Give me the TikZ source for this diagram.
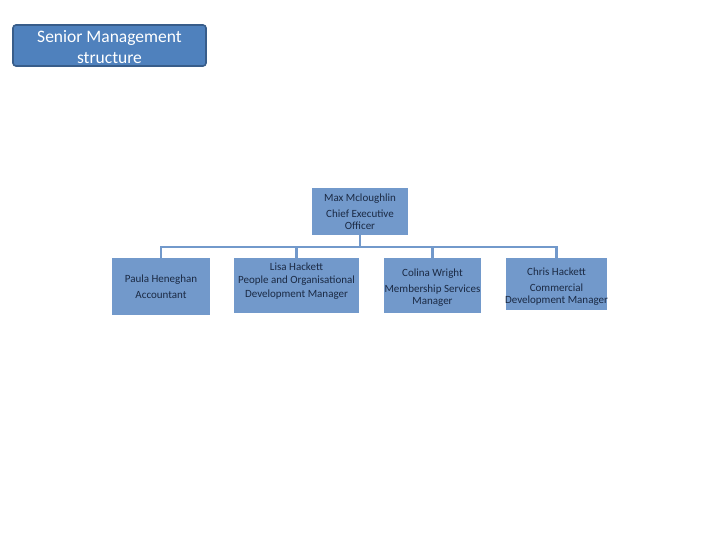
\documentclass[tikz,border=0pt]{standalone}
\usepackage{fontspec}
\setmainfont{Carlito}
\definecolor{hdrfill}{HTML}{4F81BD}
\definecolor{hdrline}{HTML}{385D8A}
\definecolor{boxfill}{HTML}{7299CB}
\definecolor{conn}{HTML}{7299CB}
\definecolor{boxtext}{HTML}{1B2A44}
\begin{document}
\begin{tikzpicture}[x=1pt,y=-1pt,
  orgbox/.style={fill=boxfill,draw=none,inner sep=0pt},
  lbl/.style={inner sep=0pt,text=boxtext,font=\fontsize{11}{12}\selectfont,align=center},
  link/.style={draw=conn,line width=2.4pt}]
\useasboundingbox (0,0) rectangle (720,540);
\node[draw=hdrline,line width=1.6pt,fill=hdrfill,rounded corners=3pt,minimum width=193pt,minimum height=41pt,inner sep=0pt] (hdr) at (109.5,45.5) {};
\node[inner sep=0pt,text=white,align=center,font=\fontsize{17.5}{21}\selectfont] (hdrt) at ([yshift=-2pt]hdr.center) {Senior Management\\structure};
\node[orgbox,minimum width=96pt,minimum height=47pt] (ceo) at (360,211.5) {};
\node[lbl] (ceot) at ([yshift=-0.5pt]ceo.center) {Max Mcloughlin\\[4pt]Chief Executive\\Officer};
\node[orgbox,minimum width=98pt,minimum height=57pt] (paula) at (161,286.5) {};
\node[lbl,font=\fontsize{11}{16}\selectfont] (paulat) at (paula.center) {Paula Heneghan\\Accountant};
\node[orgbox,minimum width=125pt,minimum height=55pt] (lisa) at (296.5,285.5) {};
\node[lbl,font=\fontsize{11}{13.5}\selectfont] (lisat) at ([yshift=4.5pt]lisa.center) {Lisa Hackett\\People and Organisational\\Development Manager};
\node[orgbox,minimum width=97pt,minimum height=55pt] (colina) at (432.5,285.5) {};
\node[lbl] (colinat) at ([yshift=-2.5pt]colina.center) {Colina Wright\\[4pt]Membership Services\\Manager};
\node[orgbox,minimum width=101pt,minimum height=52pt] (chris) at (556.5,284) {};
\node[lbl] (christ) at ([yshift=-3pt]chris.center) {Chris Hackett\\[4pt]Commercial\\Development Manager};
\coordinate (bus) at (360,247);
\draw[link] (ceo.south) -- (bus);
\draw[link] (paula.north) -- (paula.north |- bus) -- (chris.north |- bus) -- (chris.north);
\draw[link] (lisa.north) -- (lisa.north |- bus);
\draw[link] (colina.north) -- (colina.north |- bus);
\end{tikzpicture}
\end{document}
